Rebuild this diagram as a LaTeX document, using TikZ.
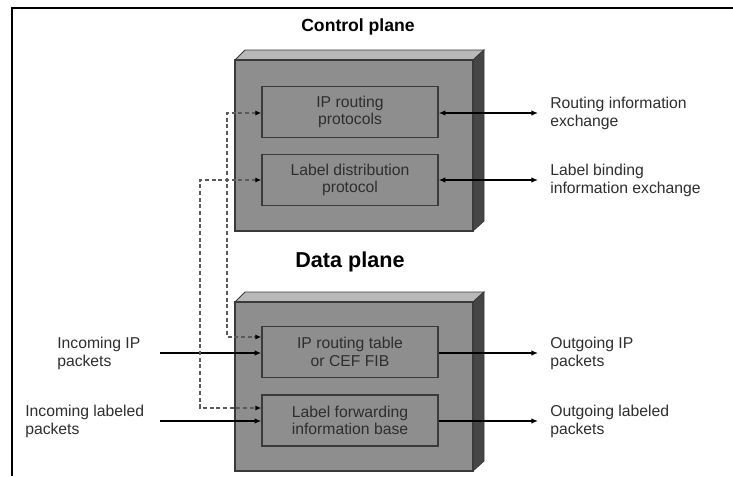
\documentclass[tikz,border=0pt]{standalone}
\usepackage{fontspec}
\setmainfont{Liberation Sans}
\usetikzlibrary{arrows.meta}
\definecolor{facegray}{HTML}{8E8E8E}
\definecolor{topgray}{HTML}{B8B8B8}
\definecolor{sidegray}{HTML}{454545}
\definecolor{edgegray}{HTML}{3A3A3A}
\definecolor{labelgray}{HTML}{2E2E2E}
\definecolor{dashgray}{HTML}{5A5A5A}
\tikzset{
  face/.style={fill=facegray, draw=edgegray, line width=1pt},
  topface/.style={fill=topgray, draw=edgegray, line width=0.6pt},
  sideface/.style={fill=sidegray, draw=edgegray, line width=0.6pt},
  unit/.style={draw=edgegray, fill=facegray, line width=1.1pt, minimum width=132pt,
    minimum height=38pt, inner sep=0pt, align=center, text=labelgray,
    font=\fontsize{11.8}{13}\selectfont},
  lbl/.style={anchor=west, inner sep=0pt, align=left, text=labelgray,
    font=\fontsize{11.8}{13.5}\selectfont},
  ttl/.style={font=\bfseries, inner sep=0pt},
  flow/.style={line width=1.2pt, -{Latex[length=5pt,width=4.2pt]}},
  both/.style={line width=1.2pt, {Latex[length=5pt,width=4.2pt]}-{Latex[length=5pt,width=4.2pt]}},
  ctl/.style={draw=dashgray, line width=0.8pt, dash pattern=on 3pt off 2pt,
    {Latex[length=4.5pt,width=3.8pt,color=black]}-{Latex[length=4.5pt,width=3.8pt,color=black]}}
}
\begin{document}
\begin{tikzpicture}[x=0.75pt, y=-0.75pt]
\useasboundingbox (0,0) rectangle (733,476);
% frame
\draw[line width=1.6pt] (12,476) -- (12,8) -- (733,8);

% titles
\node[ttl, font=\bfseries\fontsize{13.2}{15}\selectfont] (ctitle) at (358,27) {Control plane};
\node[ttl, font=\bfseries\fontsize{16.2}{18}\selectfont] (dtitle) at (350,262) {Data plane};

% control plane block
\draw[topface] (235,60) -- (245,50) -- (484,50) -- (473,60) -- cycle;
\draw[sideface] (473,60) -- (484,50) -- (484,221) -- (473,231) -- cycle;
\draw[face] (235,60) rectangle (473,231);

% data plane block
\draw[topface] (235,302) -- (245,292) -- (484,292) -- (473,302) -- cycle;
\draw[sideface] (473,302) -- (484,292) -- (484,461) -- (473,471) -- cycle;
\draw[face] (235,302) rectangle (473,471);

% functional units
\node[unit] (rp) at (350,112) {IP routing\\protocols};
\node[unit] (ldp) at (350,180) {Label distribution\\protocol};
\node[unit] (fib) at (350,352) {IP routing table\\or CEF FIB};
\node[unit] (lfib) at (350,420.5) {Label forwarding\\information base};

% outside labels
\node[lbl] (rie) at (550,113) {Routing information\\exchange};
\node[lbl] (lbie) at (550,180) {Label binding\\information exchange};
\node[lbl] (inip) at (57,353) {Incoming IP\\packets};
\node[lbl] (inlab) at (25,421.5) {Incoming labeled\\packets};
\node[lbl] (outip) at (550,353) {Outgoing IP\\packets};
\node[lbl] (outlab) at (550,421.5) {Outgoing labeled\\packets};

% exchange arrows
\coordinate (rieL) at (538,113);
\coordinate (lbieL) at (538,180);
\draw[both] (rp.east |- rieL) -- (rieL);
\draw[both] (ldp.east |- lbieL) -- (lbieL);

% data path arrows
\coordinate (inipR) at (160,353);
\coordinate (inlabR) at (160,421);
\coordinate (outipL) at (538,353);
\coordinate (outlabL) at (538,421);
\draw[flow] (inipR) -- (fib.west |- inipR);
\draw[flow] (inlabR) -- (lfib.west |- inlabR);
\draw[flow] (fib.east |- outipL) -- (outipL);
\draw[flow] (lfib.east |- outlabL) -- (outlabL);

% control-to-data plane links
\coordinate (c1a) at (227,113);
\coordinate (c1b) at (227,337);
\coordinate (c2a) at (200,180);
\coordinate (c2b) at (200,408);
\draw[ctl] (rp.west |- c1a) -- (c1a) -- (c1b) -- (fib.west |- c1b);
\draw[ctl] (ldp.west |- c2a) -- (c2a) -- (c2b) -- (lfib.west |- c2b);
\end{tikzpicture}
\end{document}
